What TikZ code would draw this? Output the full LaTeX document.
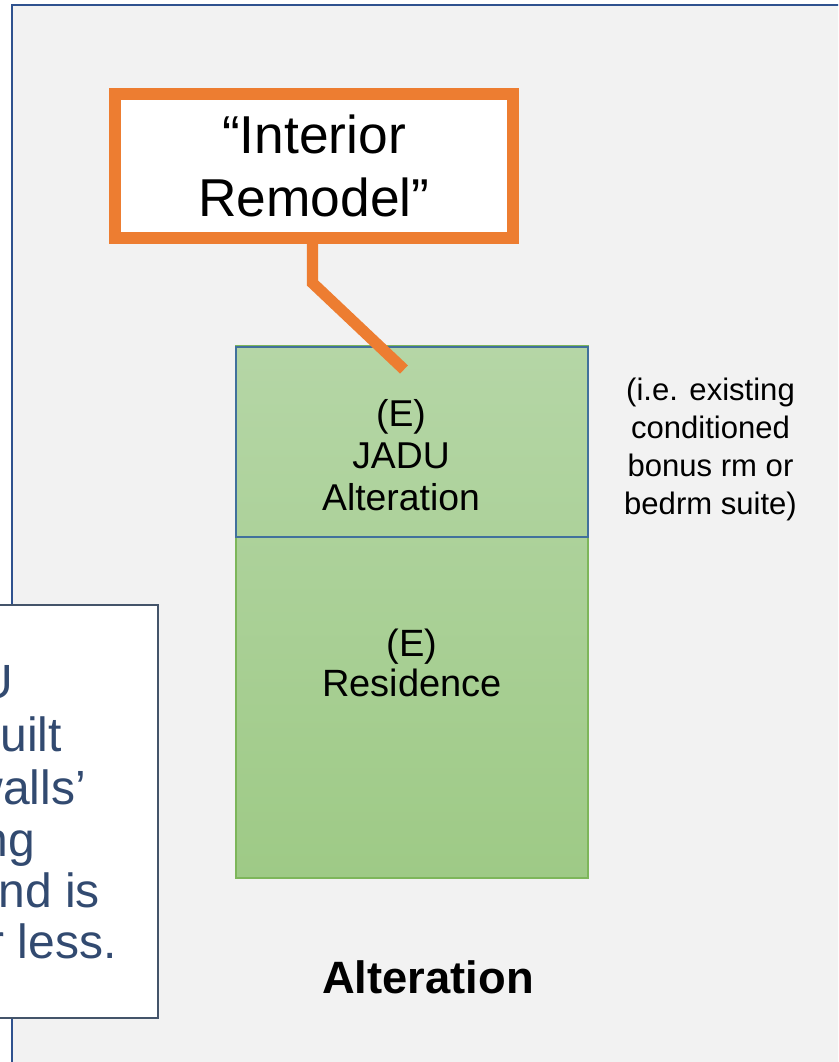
\documentclass[tikz,border=0pt]{standalone}
\usepackage{fontspec}
\setmainfont{Liberation Sans}

\definecolor{panelFill}{HTML}{F2F2F2}
\definecolor{panelLine}{HTML}{2F528F}
\definecolor{calloutOrange}{HTML}{ED7D31}
\definecolor{houseTop}{RGB}{181,214,166}
\definecolor{houseBottom}{RGB}{158,202,134}
\definecolor{houseLine}{HTML}{7DB65A}
\definecolor{jaduLine}{HTML}{41719C}
\definecolor{sideLine}{HTML}{44546A}
\definecolor{sideText}{RGB}{50,74,112}

\tikzset{
  panel/.style={fill=panelFill, draw=panelLine, line width=1.5pt},
  callout/.style={draw=calloutOrange, line width=9pt, fill=white,
    minimum width=298.5pt, minimum height=108pt, inner sep=0pt,
    align=center, font=\fontsize{40pt}{47.25pt}\selectfont},
  pointerline/.style={draw=calloutOrange, line width=8.5pt},
  house/.style={draw=houseLine, line width=1.1pt, top color=houseTop,
    bottom color=houseBottom, minimum width=264pt, minimum height=399pt,
    inner sep=0pt},
  jadubox/.style={draw=jaduLine, line width=1.5pt, minimum width=264pt,
    minimum height=142.5pt, inner sep=0pt},
  roomlabel/.style={align=center, inner sep=0pt},
  note/.style={align=center, inner sep=0pt,
    font=\fontsize{23.3pt}{28.7pt}\selectfont},
  heading/.style={inner sep=0pt, anchor=base,
    font=\fontsize{34pt}{40pt}\selectfont\bfseries},
  sidebox/.style={fill=white, draw=sideLine, line width=1.5pt,
    minimum width=133.5pt, minimum height=309.75pt, inner sep=0pt},
  sidetext/.style={inner sep=0pt, anchor=base east, text=sideText,
    font=\fontsize{36pt}{39pt}\selectfont},
}

\begin{document}
\begin{tikzpicture}[x=0.75pt, y=-0.75pt]
  \useasboundingbox (0,0) rectangle (838,1062);
  \clip (0,0) rectangle (838,1062);
  \fill[white] (0,0) rectangle (838,1062);

  % background panel (runs past the right and bottom edges)
  \draw[panel] (11.5,5) rectangle (870,1100);

  % existing residence with the JADU portion on top
  \node[house] (house) at (412,612) {};
  \node[jadubox] (jadu) at (412,442) {};
  \node[roomlabel, font=\fontsize{28pt}{31.25pt}\selectfont]
    (jaduLabel) at (401,455) {(E)\\JADU\\Alteration};
  \node[roomlabel, font=\fontsize{28.5pt}{30pt}\selectfont]
    (resLabel) at (412,663) {(E)\\Residence};

  % explanatory note
  \node[note] (example) at (710.5,449.5)
    {(i.e. existing\\conditioned\\bonus rm or\\bedrm suite)};

  % callout with its pointer
  \node[callout] (callout) at (314,166) {“Interior\\Remodel”};
  \coordinate (bend) at (312.5,283);
  \coordinate (tip) at (404,369.5);
  \draw[pointerline] (callout.south -| bend) -- (bend) -- (tip);

  % caption
  \node[heading] (caption) at (428,993) {Alteration};

  % side text box on the left
  \node[sidebox] (side) at (69,811.5) {};
  \node[sidetext] (side1) at (13.5,698) {U};
  \node[sidetext] (side2) at (62,751.5) {uilt};
  \node[sidetext] (side3) at (86,804) {walls’};
  \node[sidetext] (side4) at (35,856) {ng};
  \node[sidetext] (side5) at (100,907) {nd is};
  \node[sidetext] (side6) at (117,958) {r less.};
\end{tikzpicture}
\end{document}
